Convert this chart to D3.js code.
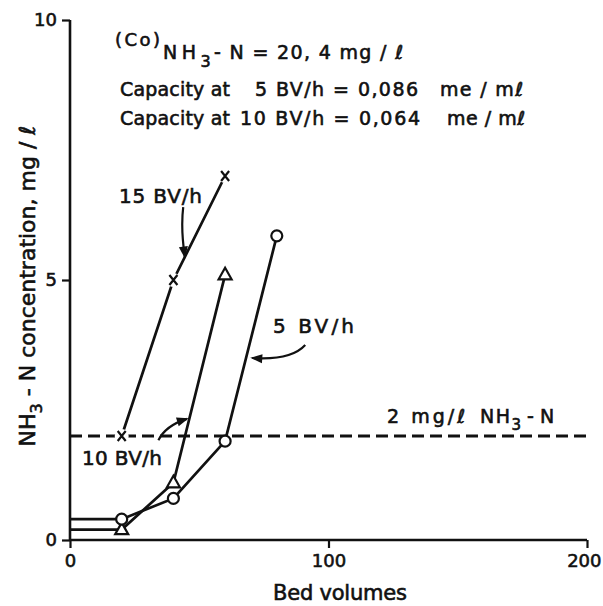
<!DOCTYPE html>
<html>
<head>
<meta charset="utf-8">
<script src="https://cdn.jsdelivr.net/npm/d3@7"></script>
<style>
  body { margin: 0; background: #fff; }
  svg { display: block; }
  text { font-family: "DejaVu Sans", sans-serif; fill: #111; stroke: #111; stroke-width: 0.6px; }
</style>
</head>
<body>
<svg id="chart" width="603" height="606"></svg>
<script>
  // bed volumes (x) and NH3-N concentration, mg/l (y)
  var bv15X = [20, 40, 60];
  var bv15Y = [2.0, 5.0, 7.0];
  var bv10X = [0, 20, 40, 60];
  var bv10Y = [0.2, 0.2, 1.1, 5.1];
  var bv5X = [0, 20, 40, 60, 80];
  var bv5Y = [0.4, 0.4, 0.8, 1.9, 5.85];
  var limitY = 2;
  var xTicks = [0, 100, 200];
  var yTicks = [0, 5, 10];

  var width = 603, height = 606;
  var svg = d3.select("#chart");

  var x = d3.scaleLinear().domain([0, 200]).range([70, 587]);
  var y = d3.scaleLinear().domain([0, 10]).range([540, 20]);

  // axes
  var xAxis = d3.axisBottom(x).tickValues(xTicks).tickSize(8).tickPadding(6);
  var yAxis = d3.axisLeft(y).tickValues(yTicks).tickSize(8).tickPadding(5);

  var gx = svg.append("g").attr("transform", "translate(0," + y(0) + ")").call(xAxis);
  var gy = svg.append("g").attr("transform", "translate(" + x(0) + ",0)").call(yAxis);
  [gx, gy].forEach(function(g){
    g.select(".domain").attr("stroke", "#111").attr("stroke-width", 2.6);
    g.selectAll(".tick line").attr("stroke", "#111").attr("stroke-width", 2.2);
    g.selectAll(".tick text").style("font-size", "18px").attr("fill", "#111");
  });
  gy.select(".domain").attr("d", "M0," + y(10) + "V" + y(0));
  gx.select(".domain").attr("d", "M" + x(0) + ",0H" + x(200));
  // keep the last label inside the frame
  gx.selectAll(".tick text").filter(function(d){ return d === 200; })
    .attr("text-anchor", "end").attr("dx", 14);

  // axis titles
  svg.append("text")
    .attr("x", 340).attr("y", 600)
    .attr("text-anchor", "middle")
    .style("font-size", "21px")
    .attr("textLength", 134)
    .text("Bed volumes");

  var yt = svg.append("text")
    .attr("transform", "translate(35,286) rotate(-90)")
    .attr("text-anchor", "middle")
    .style("font-size", "22px");
  yt.append("tspan").text("NH");
  yt.append("tspan").attr("dy", 7).style("font-size", "16px").text("3");
  yt.append("tspan").attr("dy", -7).text(" - N  concentration,  mg / ℓ");

  // 2 mg/l limit
  svg.append("line")
    .attr("x1", x(0)).attr("x2", x(200))
    .attr("y1", y(limitY)).attr("y2", y(limitY))
    .attr("stroke", "#111").attr("stroke-width", 3)
    .attr("stroke-dasharray", "12,6");

  var line = d3.line().x(function(d){ return x(d[0]); }).y(function(d){ return y(d[1]); });
  function pairs(xs, ys){ return xs.map(function(v, i){ return [v, ys[i]]; }); }

  var s15 = pairs(bv15X, bv15Y), s10 = pairs(bv10X, bv10Y), s5 = pairs(bv5X, bv5Y);

  [s15, s10, s5].forEach(function(s){
    svg.append("path").datum(s).attr("d", line)
      .attr("fill", "none").attr("stroke", "#111").attr("stroke-width", 2.7);
  });

  // markers
  svg.selectAll(".m15").data(s15).enter().append("g")
    .attr("transform", function(d){ return "translate(" + x(d[0]) + "," + y(d[1]) + ")"; })
    .each(function(){
      var g = d3.select(this);
      g.append("circle").attr("r", 7).attr("fill", "#fff");
      g.append("path").attr("d", "M-4,-5L4,5M4,-5L-4,5")
        .attr("stroke", "#111").attr("stroke-width", 2.2);
    });

  svg.selectAll(".m10").data(s10.slice(1)).enter().append("path")
    .attr("transform", function(d){ return "translate(" + x(d[0]) + "," + y(d[1]) + ")"; })
    .attr("d", "M0,-7L6.5,4.5L-6.5,4.5Z")
    .attr("fill", "#fff").attr("stroke", "#111").attr("stroke-width", 2.2);

  svg.selectAll(".m5").data(s5.slice(1)).enter().append("circle")
    .attr("cx", function(d){ return x(d[0]); })
    .attr("cy", function(d){ return y(d[1]); })
    .attr("r", 5.5)
    .attr("fill", "#fff").attr("stroke", "#111").attr("stroke-width", 2.2);

  // arrows (data units: start, control, tip)
  var arrows = [
    [[43.8, 6.4], [42.8, 6.0], [44.4, 5.45]],
    [[91.0, 3.75], [85.5, 3.45], [70.5, 3.5]],
    [[34.2, 1.92], [37.0, 2.2], [45.2, 2.33]]
  ];
  arrows.forEach(function(a){
    var p = a.map(function(d){ return [x(d[0]), y(d[1])]; });
    var path = d3.path();
    path.moveTo(p[0][0], p[0][1]);
    path.quadraticCurveTo(p[1][0], p[1][1], p[2][0], p[2][1]);
    svg.append("path").attr("d", path.toString())
      .attr("fill", "none").attr("stroke", "#111").attr("stroke-width", 2.2);
    var ang = Math.atan2(p[2][1] - p[1][1], p[2][0] - p[1][0]) * 180 / Math.PI;
    svg.append("path")
      .attr("transform", "translate(" + p[2][0] + "," + p[2][1] + ") rotate(" + ang + ")")
      .attr("d", "M2,0L-10,-4.5L-10,4.5Z")
      .attr("fill", "#111");
  });

  // series labels
  svg.append("text").attr("x", 119).attr("y", 203).style("font-size", "20px")
    .attr("textLength", 83).text("15 BV/h");
  svg.append("text").attr("x", 273).attr("y", 333).style("font-size", "20px")
    .attr("textLength", 81).text("5 BV/h");
  svg.append("text").attr("x", 82).attr("y", 465).style("font-size", "20px")
    .attr("textLength", 80).text("10 BV/h");

  var lim = svg.append("text").attr("x", 387).attr("y", 423).style("font-size", "19px");
  lim.append("tspan").attr("textLength", 78).text("2 mg/ℓ");
  lim.append("tspan").attr("x", 480).attr("textLength", 30).text("NH");
  lim.append("tspan").attr("dy", 7).style("font-size", "15px").text("3");
  lim.append("tspan").attr("dy", -7).attr("x", 527).text("- N");

  // header notes
  var h1 = svg.append("text").attr("x", 115).attr("y", 46).style("font-size", "18px");
  h1.append("tspan").attr("textLength", 45).text("(Co)");
  h1.append("tspan").attr("x", 163).attr("dy", 13).style("font-size", "19px")
    .attr("textLength", 33).text("NH");
  h1.append("tspan").attr("dy", 8).style("font-size", "16px").text("3");
  h1.append("tspan").attr("x", 214).attr("dy", -8).style("font-size", "19px")
    .attr("textLength", 189).text("- N  =  20, 4  mg / ℓ");

  var capRows = [
    { y: 96, a: "5 BV/h = 0,086", ax: 255, al: 163, ux: 440, ul: 83 },
    { y: 125, a: "10 BV/h = 0,064", ax: 240, al: 180, ux: 447, ul: 78 }
  ];
  capRows.forEach(function(r){
    svg.append("text").attr("x", 120).attr("y", r.y).style("font-size", "19px")
      .attr("textLength", 110).text("Capacity at");
    svg.append("text").attr("x", r.ax).attr("y", r.y).style("font-size", "19px")
      .attr("textLength", r.al).text(r.a);
    svg.append("text").attr("x", r.ux).attr("y", r.y).style("font-size", "19px")
      .attr("textLength", r.ul).text("me / mℓ");
  });
</script>
</body>
</html>
